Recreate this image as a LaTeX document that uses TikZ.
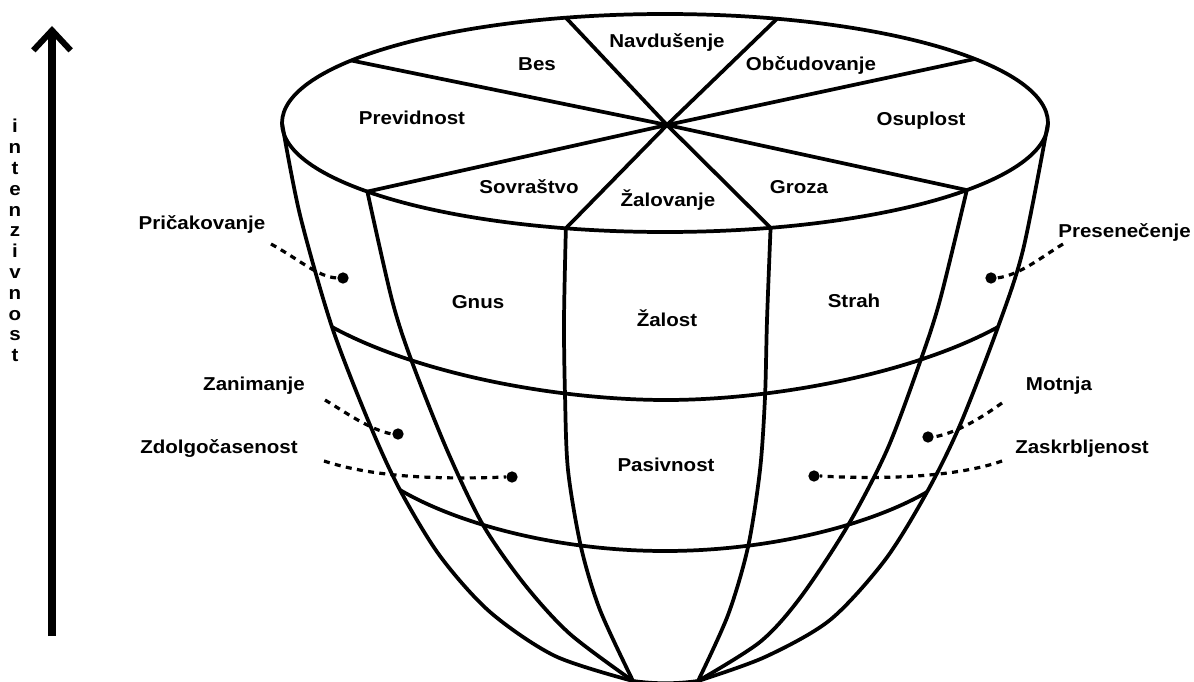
\documentclass[tikz,border=0pt]{standalone}
\usepackage{fontspec}
\usepackage{tikz}
\usetikzlibrary{calc,arrows.meta}
\newfontfamily\emofont{Liberation Sans}[FakeStretch=1.1]

\begin{document}
\begin{tikzpicture}[x=0.75pt,y=0.75pt,yscale=-1,xscale=1,
    rimline/.style={line width=2.8pt, line join=round},
    leader/.style={line width=2.4pt, dash pattern=on 4.5pt off 4pt},
    dot/.style={circle, fill=black, inner sep=0pt, minimum size=8.5pt},
    emo/.style={font=\emofont\bfseries\fontsize{14}{16}\selectfont, inner sep=0pt, anchor=base}]
\useasboundingbox (0,0) rectangle (1194,681);

%Intensity arrow
\coordinate (arrlow) at (52,636);
\coordinate (arrhigh) at (52,26);
\draw [line width=5.5pt, -{Straight Barb[length=15pt,width=28pt,line width=4.5pt]}] (arrlow) -- (arrhigh);
\foreach \ch [count=\k] in {i,n,t,e,n,z,i,v,n,o,s,t}
  \node [emo] (int\k) at (15,{112+20.8*\k}) {\ch};

%Shape: Ellipse (top)
\coordinate (rim) at (665,123);
\coordinate (hub) at (667,125);
\foreach \ang in {0,38,74,105,141,180,215,255,287,324}
  \coordinate (s\ang) at ($(rim)+(\ang:383 and 109)$);
\draw [rimline] (rim) ellipse [x radius=383, y radius=109];

%Straight Lines (spokes)
\foreach \ang in {38,74,105,141,215,255,287,324}
  \draw [rimline] (hub) -- (s\ang);

%Curve Lines (meridians)
\coordinate (botl) at (633,681);
\coordinate (botr) at (698,681);
\draw [rimline] plot [smooth] coordinates {(s180) (300,215) (332,327) (370,425) (400,490) (440,556) (490,612) (555,656) (botl)};
\draw [rimline] plot [smooth] coordinates {(s141) (392,300) (412,362) (447,450) (483,525) (525,585) (570,634) (botl)};
\draw [rimline] plot [smooth] coordinates {(s105) (564,320) (565,395) (568,470) (581,547) (600,610) (botl)};
\draw [rimline] plot [smooth] coordinates {(s74) (767,320) (765,397) (760,470) (748,547) (728,615) (botr)};
\draw [rimline] plot [smooth] coordinates {(s38) (940,300) (920,362) (887,450) (847,527) (800,598) (760,642) (botr)};
\draw [rimline] plot [smooth] coordinates {(s0) (1023,250) (998,327) (960,425) (927,492) (885,560) (830,620) (765,657) (botr)};
\draw [rimline] (botl) .. controls (655,684) and (676,684) .. (botr);

%Curve Lines (bands)
\coordinate (ba) at (332,327);
\coordinate (bb) at (998,327);
\coordinate (bc) at (400,490);
\coordinate (bd) at (927,492);
\draw [rimline] (ba) .. controls (420,375) and (560,400) .. (666,400) .. controls (770,400) and (910,375) .. (bb);
\draw [rimline] (bc) .. controls (460,525) and (560,551) .. (665,551) .. controls (770,551) and (870,525) .. (bd);

%Labels on the bowl
\node [emo] (navd) at (667,48) {Navdušenje};
\node [emo] (bes) at (537,71) {Bes};
\node [emo] (obcu) at (811,71) {Občudovanje};
\node [emo] (prev) at (412,125) {Previdnost};
\node [emo] (osup) at (921,126) {Osuplost};
\node [emo] (sovr) at (529,193) {Sovraštvo};
\node [emo] (zalov) at (668,206) {Žalovanje};
\node [emo] (groz) at (799,193) {Groza};
\node [emo] (gnus) at (478,308) {Gnus};
\node [emo] (zalost) at (667,326) {Žalost};
\node [emo] (strah) at (854,307) {Strah};
\node [emo] (pasi) at (666,471) {Pasivnost};

%Outer labels
\node [emo] (pric) at (202,229) {Pričakovanje};
\node [emo] (zani) at (254,390) {Zanimanje};
\node [emo] (zdol) at (219,453) {Zdolgočasenost};
\node [emo, anchor=base east] (pres) at (1191,237) {Presenečenje};
\node [emo] (motn) at (1059,390) {Motnja};
\node [emo] (zask) at (1082,453) {Zaskrbljenost};

%Dots and leaders
\node [dot] (dpric) at (343,278) {};
\node [dot] (dzani) at (398,434) {};
\node [dot] (dzdol) at (512,477) {};
\node [dot] (dpres) at (991,278) {};
\node [dot] (dmotn) at (928,437) {};
\node [dot] (dzask) at (814,476) {};
\coordinate (lpric) at (271,244);
\coordinate (lzani) at (325,400);
\coordinate (lzdol) at (324,461);
\coordinate (lpres) at (1063,244);
\coordinate (lmotn) at (1002,403);
\coordinate (lzask) at (1002,461);
\draw [leader] (lpric) .. controls (300,260) and (318,277) .. (dpric.west);
\draw [leader] (lzani) .. controls (345,412) and (370,430) .. (dzani.west);
\draw [leader] (lzdol) .. controls (370,476) and (430,480) .. (dzdol.west);
\draw [leader] (lpres) .. controls (1040,258) and (1020,275) .. (dpres.east);
\draw [leader] (lmotn) .. controls (985,415) and (960,432) .. (dmotn.east);
\draw [leader] (lzask) .. controls (960,476) and (890,480) .. (dzask.east);
\end{tikzpicture}
\end{document}
